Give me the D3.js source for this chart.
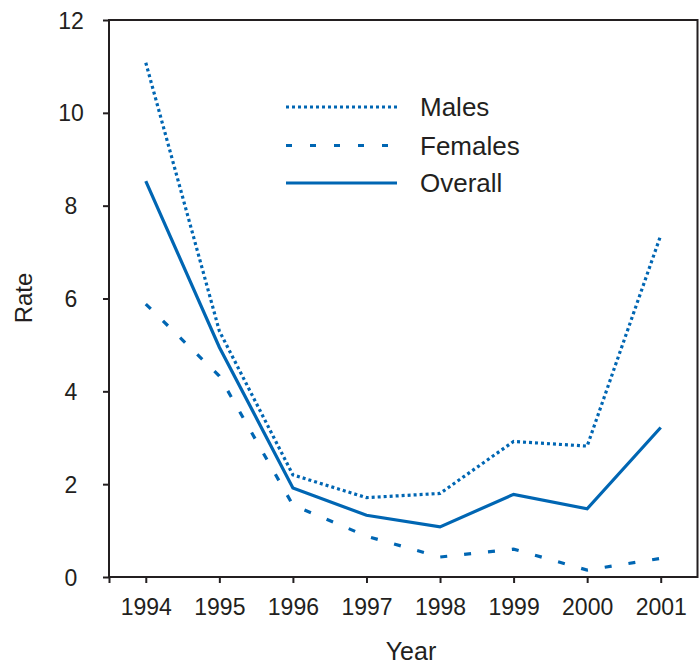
<!DOCTYPE html>
<html><head><meta charset="utf-8">
<script src="https://cdn.jsdelivr.net/npm/d3@7"></script>
<style>body{margin:0;background:#fff}svg{display:block}text{font-family:"Liberation Sans",Arial,sans-serif;fill:#231f20}</style>
</head><body>
<script>
const years = [1994,1995,1996,1997,1998,1999,2000,2001];
const males = [11.08,5.3,2.2,1.71,1.8,2.92,2.82,7.36];
const females = [5.88,4.33,1.55,0.88,0.43,0.6,0.15,0.4];
const overall = [8.53,4.95,1.92,1.33,1.08,1.78,1.47,3.22];
const yTicks = [0,2,4,6,8,10,12];
const seriesNames = ["Males","Females","Overall"];
const seriesData = [males, females, overall];
const dashes = ["3,3","7,17",null];
const legendDashes = ["3,3","6,18",null];
const color = "#0066b3";
const axisColor = "#231f20";

const W = 700, H = 665;
const svg = d3.select("body").append("svg").attr("width", W).attr("height", H);
const pLeft = 109, pRight = 697.5, pTop = 20, pBottom = 577;
const x = d3.scaleLinear().domain([1993.5, 2001.5]).range([pLeft, pRight]);
const y = d3.scaleLinear().domain([0, 12]).range([pBottom, pTop]);

// frame
svg.append("rect").attr("x", pLeft).attr("y", pTop).attr("width", pRight-pLeft).attr("height", pBottom-pTop)
  .attr("fill","none").attr("stroke",axisColor).attr("stroke-width",2);

// y axis
const ya = svg.append("g").attr("transform",`translate(${pLeft},0)`)
  .call(d3.axisLeft(y).tickValues(yTicks).tickSize(6).tickPadding(0).tickFormat(d3.format("d")));
ya.select(".domain").remove();
ya.selectAll(".tick line").attr("stroke",axisColor).attr("stroke-width",2);
ya.selectAll(".tick text").attr("x",-38).attr("text-anchor","middle").attr("dy","0.35em")
  .style("font-size","23px").attr("fill",axisColor);

// x axis
const xa = svg.append("g").attr("transform",`translate(0,${pBottom})`)
  .call(d3.axisBottom(x).tickValues([1993.5].concat(years)).tickSize(6).tickPadding(16)
    .tickFormat(d => Number.isInteger(d) ? String(d) : ""));
xa.select(".domain").remove();
xa.selectAll(".tick line").attr("stroke",axisColor).attr("stroke-width",2);
xa.selectAll(".tick text").style("font-size","23px").attr("fill",axisColor).attr("dy","0.71em");

// axis titles
svg.append("text").attr("x", 411).attr("y", 660).attr("text-anchor","middle")
  .style("font-size","25px").text("Year");
svg.append("text").attr("transform","translate(32,298) rotate(-90)").attr("text-anchor","middle")
  .style("font-size","24px").text("Rate");

// lines
const line = d3.line().x((d,i)=>x(years[i])).y(d=>y(d));
seriesData.forEach((s,k)=>{
  svg.append("path").datum(s).attr("d",line).attr("fill","none")
    .attr("stroke",color).attr("stroke-width",3.2)
    .attr("stroke-dasharray",dashes[k]);
});

// legend
const ly = [107, 145.5, 183];
seriesNames.forEach((n,k)=>{
  svg.append("line").attr("x1",286).attr("x2",397).attr("y1",ly[k]).attr("y2",ly[k])
    .attr("stroke",color).attr("stroke-width",3.2).attr("stroke-dasharray",legendDashes[k]);
  svg.append("text").attr("x",420).attr("y",ly[k]).attr("dy","0.35em")
    .style("font-size","26px").text(n);
});
</script>
</body></html>
